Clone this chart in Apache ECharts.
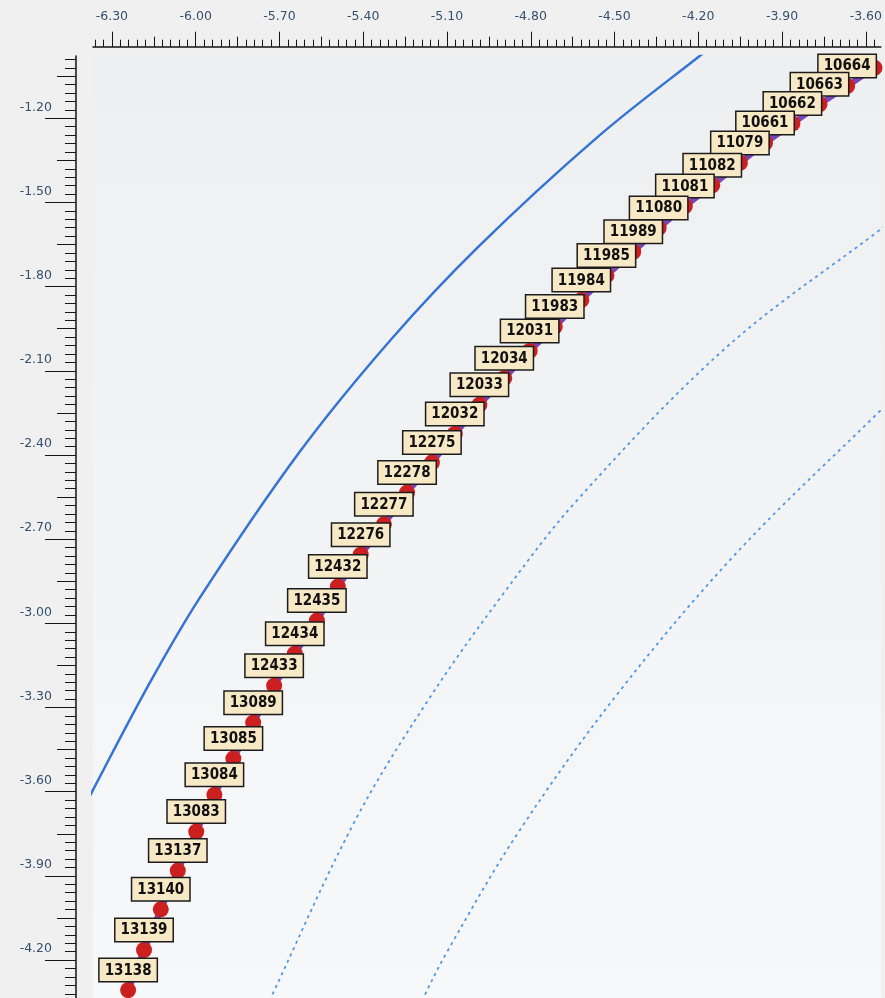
<!DOCTYPE html>
<html>
<head>
<meta charset="utf-8">
<script src="https://cdn.jsdelivr.net/npm/echarts@6/dist/echarts.min.js"></script>
<style>
  html, body { margin: 0; padding: 0; background: #f0f0f0; }
  #chart { width: 885px; height: 998px; }
</style>
</head>
<body>
<div id="chart"></div>
<script>
// Station chain (top to bottom); the first point has no visible tag
const stationIds = [null, '10664', '10663', '10662', '10661', '11079', '11082', '11081', '11080',
  '11989', '11985', '11984', '11983', '12031', '12034', '12033', '12032',
  '12275', '12278', '12277', '12276', '12432', '12435', '12434', '12433',
  '13089', '13085', '13084', '13083', '13137', '13140', '13139', '13138'];
const stationX = [-3.569, -3.667, -3.766, -3.863, -3.961, -4.051, -4.150, -4.248, -4.342,
  -4.433, -4.529, -4.619, -4.714, -4.804, -4.895, -4.984, -5.072,
  -5.154, -5.243, -5.326, -5.409, -5.491, -5.566, -5.645, -5.719,
  -5.794, -5.865, -5.933, -5.998, -6.064, -6.125, -6.185, -6.242];
const stationY = [-1.020, -1.085, -1.150, -1.219, -1.288, -1.359, -1.439, -1.513, -1.591,
  -1.676, -1.760, -1.848, -1.942, -2.029, -2.126, -2.221, -2.325,
  -2.427, -2.534, -2.647, -2.755, -2.869, -2.990, -3.108, -3.222,
  -3.354, -3.482, -3.611, -3.742, -3.881, -4.019, -4.164, -4.307];

// Solid boundary curve
const boundaryX = [-6.423, -6.368, -6.165, -5.986, -5.630, -5.302, -4.989, -4.561, -4.195, -4.118];
const boundaryY = [-3.701, -3.594, -3.213, -2.910, -2.392, -1.990, -1.659, -1.267, -0.978, -0.921];

// Dashed offset curves
const innerOffsetX = [-5.766, -5.731, -5.428, -5.167, -4.907, -4.633, -4.098, -3.546, -3.475];
const innerOffsetY = [-4.414, -4.335, -3.701, -3.273, -2.906, -2.560, -2.015, -1.595, -1.541];
const outerOffsetX = [-5.221, -5.185, -5.096, -4.846, -4.490, -4.063, -3.546, -3.475];
const outerOffsetY = [-4.414, -4.335, -4.164, -3.747, -3.252, -2.749, -2.240, -2.175];

// Axis tick labels
const xTickLabels = ['-6.30', '-6.00', '-5.70', '-5.40', '-5.10', '-4.80', '-4.50', '-4.20', '-3.90', '-3.60'];
const yTickLabels = ['-1.20', '-1.50', '-1.80', '-2.10', '-2.40', '-2.70', '-3.00', '-3.30', '-3.60', '-3.90', '-4.20'];

// Visible window of the plot
const X_MIN = -6.3677, X_MAX = -3.5462;
const Y_MIN = -4.3351, Y_MAX = -0.9780;

// Multiples of a step inside a range (for tick marks)
function multiples(from, to, step) {
  const out = [];
  const a = Math.ceil(from / step - 1e-9), b = Math.floor(to / step + 1e-9);
  for (let k = a; k <= b; k++) out.push(Math.round(k * step * 1000) / 1000);
  return out;
}

const xMajor = xTickLabels.map(Number);
const yMajor = yTickLabels.map(Number);
const xMid = multiples(X_MIN, X_MAX, 0.15);
const yMid = multiples(Y_MIN, Y_MAX, 0.15);
const xMinor = multiples(X_MIN, X_MAX, 0.03);
const yMinor = multiples(Y_MIN, Y_MAX, 0.03);

const INK = '#151515';
const axisFont = { fontFamily: 'DejaVu Sans, sans-serif', fontSize: 12.5, color: '#34506e' };

function xLayer(ticks, len, main) {
  return {
    type: 'value', gridIndex: 0, position: 'top', offset: 9.3,
    min: X_MIN, max: X_MAX, silent: true,
    axisLine: { show: main, onZero: false, lineStyle: { color: INK, width: 1.5 } },
    axisTick: { show: true, customValues: ticks, length: len, lineStyle: { color: INK, width: 1 } },
    axisLabel: main ? Object.assign({
      show: true, customValues: xMajor, margin: 23,
      formatter: v => Number(v).toFixed(2)
    }, axisFont) : { show: false },
    splitLine: { show: false }
  };
}

function yLayer(ticks, len, main) {
  return {
    type: 'value', gridIndex: 0, position: 'left', offset: 17,
    min: Y_MIN, max: Y_MAX, silent: true,
    axisLine: { show: main, onZero: false, lineStyle: { color: INK, width: 1.5 } },
    axisTick: { show: true, customValues: ticks, length: len, lineStyle: { color: INK, width: 1 } },
    axisLabel: main ? Object.assign({
      show: true, customValues: yMajor, margin: 24,
      verticalAlign: 'bottom', lineHeight: 14, padding: [0, 0, 4, 0],
      formatter: v => Number(v).toFixed(2)
    }, axisFont) : { show: false },
    splitLine: { show: false }
  };
}

const pairs = (xs, ys) => xs.map((x, i) => [x, ys[i]]);

const stationData = stationIds.map((id, i) => id
  ? { name: id, value: [stationX[i], stationY[i]] }
  : { name: '', value: [stationX[i], stationY[i]], label: { show: false } });

const chart = echarts.init(document.getElementById('chart'), null, { renderer: 'canvas' });
chart.setOption({
  animation: false,
  backgroundColor: '#f0f0f0',
  grid: {
    left: 93, top: 56, right: 0, bottom: 0,
    show: true, borderWidth: 0,
    backgroundColor: {
      type: 'linear', x: 0, y: 0, x2: 0, y2: 1,
      colorStops: [{ offset: 0, color: '#eeeff1' }, { offset: 1, color: '#f7f8fa' }]
    }
  },
  xAxis: [xLayer(xMinor, 7, false), xLayer(xMid, 10, false), xLayer(xMajor, 15, true)],
  yAxis: [yLayer(yMinor, 11, false), yLayer(yMid, 19, false), yLayer(yMajor, 31, true)],
  series: [
    {
      name: 'boundary', type: 'line', xAxisIndex: 0, yAxisIndex: 0,
      data: pairs(boundaryX, boundaryY), smooth: 0.35, showSymbol: false, silent: true,
      lineStyle: { color: '#3574d4', width: 2.5 }
    },
    {
      name: 'inner offset', type: 'line', xAxisIndex: 0, yAxisIndex: 0,
      data: pairs(innerOffsetX, innerOffsetY), smooth: 0.35, showSymbol: false, silent: true,
      lineStyle: { color: '#4f97e2', width: 1.8, type: [3, 4] }
    },
    {
      name: 'outer offset', type: 'line', xAxisIndex: 0, yAxisIndex: 0,
      data: pairs(outerOffsetX, outerOffsetY), smooth: 0.35, showSymbol: false, silent: true,
      lineStyle: { color: '#4f97e2', width: 1.8, type: [3, 4] }
    },
    {
      name: 'stations', type: 'line', xAxisIndex: 0, yAxisIndex: 0,
      data: stationData, symbol: 'circle', symbolSize: 16, showSymbol: true, silent: true, z: 3,
      itemStyle: { color: '#cc1f1f' },
      lineStyle: { color: '#7a45b8', width: 6 },
      label: {
        show: true, position: 'top', distance: 1, formatter: '{b}',
        fontFamily: 'DejaVu Sans Condensed, DejaVu Sans, sans-serif',
        fontWeight: 'bold', fontSize: 15, color: '#111',
        backgroundColor: '#f8e9c6', borderColor: '#1c1c1c', borderWidth: 1.5,
        padding: [3, 5, 2, 5], lineHeight: 17
      }
    }
  ]
});
</script>
</body>
</html>
